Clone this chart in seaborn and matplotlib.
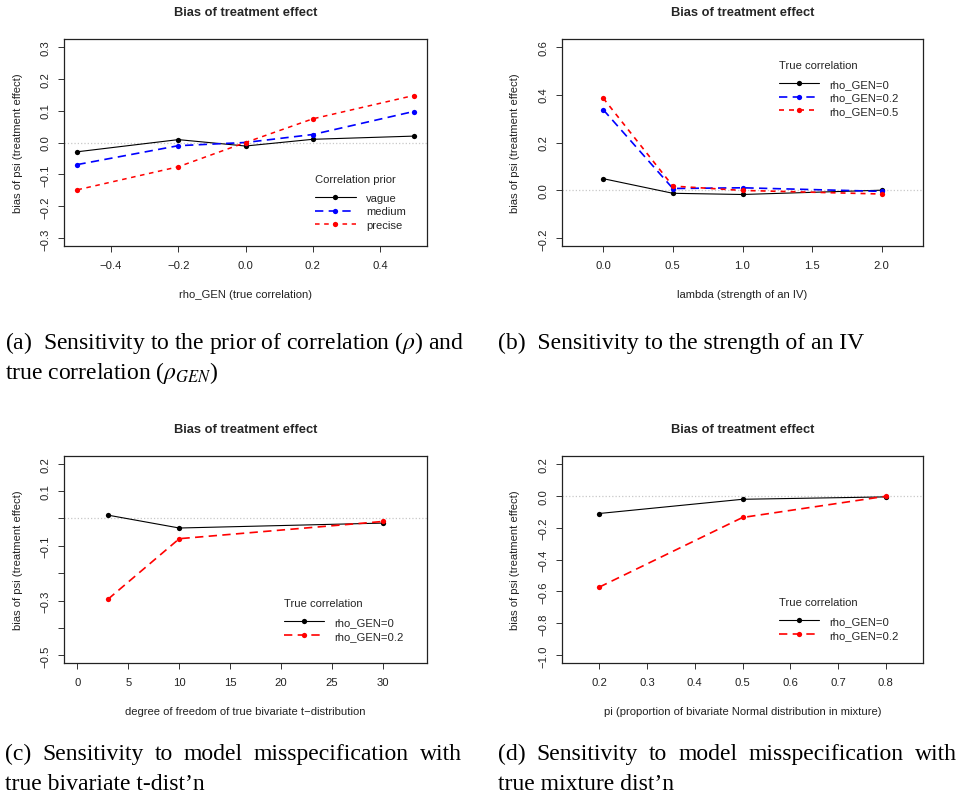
import numpy as np
import pandas as pd
import matplotlib
matplotlib.use('Agg')
import matplotlib.pyplot as plt
import seaborn as sns

# values
rho_gen = [-0.5, -0.2, 0.0, 0.2, 0.5]
a_vague = [-0.029, 0.009, -0.011, 0.010, 0.020]
a_medium = [-0.069, -0.010, 0.000, 0.025, 0.097]
a_precise = [-0.148, -0.076, 0.000, 0.074, 0.147]

lam = [0.0, 0.5, 1.0, 2.0]
b_rho0 = [0.049, -0.012, -0.017, 0.001]
b_rho02 = [0.337, 0.008, 0.011, -0.004]
b_rho05 = [0.385, 0.018, 0.000, -0.015]

df_t = [3, 10, 30]
c_rho0 = [0.012, -0.035, -0.017]
c_rho02 = [-0.295, -0.074, -0.011]

pi_mix = [0.2, 0.5, 0.8]
d_rho0 = [-0.112, -0.023, -0.008]
d_rho02 = [-0.573, -0.137, -0.004]

a_xticks = [-0.4, -0.2, 0.0, 0.2, 0.4]
a_yticks = [-0.3, -0.2, -0.1, 0.0, 0.1, 0.2, 0.3]
b_xticks = [0.0, 0.5, 1.0, 1.5, 2.0]
b_yticks = [-0.2, 0.0, 0.2, 0.4, 0.6]
c_xticks = [0, 5, 10, 15, 20, 25, 30]
c_yticks = [-0.5, -0.4, -0.3, -0.2, -0.1, 0.0, 0.1, 0.2]
c_ylabels = ['\u22120.5', '', '\u22120.3', '', '\u22120.1', '', '0.1', '0.2']
d_xticks = [0.2, 0.3, 0.4, 0.5, 0.6, 0.7, 0.8]
d_yticks = [-1.0, -0.8, -0.6, -0.4, -0.2, 0.0, 0.2]

title = 'Bias of treatment effect'
ylab = 'bias of psi (treatment effect)'

sns.set_style('ticks')
plt.rcParams['font.family'] = ['Liberation Sans', 'DejaVu Sans']
plt.rcParams['mathtext.fontset'] = 'stix'

fig = plt.figure(figsize=(9.61, 8.04), dpi=100)
W, H = 961, 804
FS = 8.1


def make_ax(l, t, r, b):
    return fig.add_axes([l / W, 1 - b / H, (r - l) / W, (b - t) / H])


def style_ax(ax, xlabel, xlim, ylim, xticks, yticks, ylabels=None):
    ax.axhline(0, color='#c8c8c8', ls=':', lw=0.9, zorder=0)
    ax.set_xlim(xlim)
    ax.set_ylim(ylim)
    ax.set_xticks(xticks)
    ax.set_yticks(yticks)
    if ylabels is not None:
        ax.set_yticklabels(ylabels)
    ax.tick_params(direction='out', length=4.3, width=0.7, labelsize=FS,
                   color='#333333', labelcolor='#222222')
    ax.tick_params(axis='x', pad=6)
    ax.tick_params(axis='y', pad=5.5, labelrotation=90)
    for lab in ax.get_yticklabels():
        lab.set_va('center')
    for sp in ax.spines.values():
        sp.set_linewidth(0.9)
        sp.set_color('#222222')
    ax.set_title(title, fontsize=9.3, fontweight='bold', pad=17)
    ax.set_xlabel(xlabel, fontsize=FS, color='#222222')
    ax.set_ylabel(ylab, fontsize=FS, color='#222222')


def series(ax, x, y, color, ls, lw, label):
    sns.lineplot(x=x, y=y, ax=ax, color=color, linestyle=ls, lw=lw,
                 marker='o', markersize=3.8, markeredgewidth=0,
                 label=label, estimator=None)


def legend(ax, ttl, x, y):
    leg = ax.legend(title=ttl, loc='upper left', bbox_to_anchor=(x, y), frameon=False,
                    fontsize=FS, title_fontsize=FS, borderpad=0.5, handlelength=3.6,
                    handletextpad=0.9, labelspacing=0.33, alignment='left', numpoints=1)
    # a bit more room between the legend title and the entries
    leg._legend_box.sep = 0.33 * FS + 3.6


long_dash = (0, (5, 3.2))
short_dash = (0, (3, 3))

# (a)
ax = make_ax(64, 40, 427, 247)
series(ax, rho_gen, a_vague, 'black', '-', 0.8, 'vague')
series(ax, rho_gen, a_medium, 'blue', long_dash, 1.2, 'medium')
series(ax, rho_gen, a_precise, 'red', short_dash, 1.1, 'precise')
style_ax(ax, 'rho_GEN (true correlation)', (-0.54, 0.54), (-0.324, 0.324), a_xticks, a_yticks)
legend(ax, 'Correlation prior', 0.661, 0.402)

# (b)
ax = make_ax(562, 40, 923, 247)
series(ax, lam, b_rho0, 'black', '-', 0.8, 'rho_GEN=0')
series(ax, lam, b_rho02, 'blue', long_dash, 1.2, 'rho_GEN=0.2')
series(ax, lam, b_rho05, 'red', short_dash, 1.2, 'rho_GEN=0.5')
style_ax(ax, 'lambda (strength of an IV)', (-0.296, 2.296), (-0.232, 0.632), b_xticks, b_yticks)
legend(ax, 'True correlation', 0.569, 0.952)

# (c)
ax = make_ax(64, 457, 427, 664)
series(ax, df_t, c_rho0, 'black', '-', 0.8, 'rho_GEN=0')
series(ax, df_t, c_rho02, 'red', long_dash, 1.2, 'rho_GEN=0.2')
style_ax(ax, 'degree of freedom of true bivariate t\u2212distribution', (-1.32, 34.32), (-0.528, 0.228),
         c_xticks, c_yticks, c_ylabels)
legend(ax, 'True correlation', 0.574, 0.367)

# (d)
ax = make_ax(562, 457, 923, 664)
series(ax, pi_mix, d_rho0, 'black', '-', 0.8, 'rho_GEN=0')
series(ax, pi_mix, d_rho02, 'red', long_dash, 1.2, 'rho_GEN=0.2')
style_ax(ax, 'pi (proportion of bivariate Normal distribution in mixture)', (0.122, 0.878), (-1.048, 0.248),
         d_xticks, d_yticks)
legend(ax, 'True correlation', 0.569, 0.372)

for a in fig.axes:
    a.xaxis.set_label_coords(0.5, -0.232)
    a.xaxis.label.set_va('center')
for a, px in zip(fig.axes, [46, 47, 46, 47]):
    w = a.get_position().width * W
    a.yaxis.set_label_coords(-px / w, 0.5)
    a.yaxis.label.set_va('center')

# captions
cap = dict(fontsize=17, family='Liberation Serif', va='baseline', ha='left', color='black')
renderer = fig.canvas.get_renderer()


def justified(x0, x1, y, line):
    # spread the words of one caption line across x0..x1 pixels
    words = line.split(' ')
    texts = [fig.text(0, 1 - y / H, w_, **cap) for w_ in words]
    widths = [t.get_window_extent(renderer).width for t in texts]
    gap = (x1 - x0 - sum(widths)) / (len(words) - 1)
    x = x0
    for t, wd in zip(texts, widths):
        t.set_x(x / W)
        x += wd + gap


fig.text(5 / W, 1 - 349 / H, '(a)  Sensitivity to the prior of correlation ($\\rho$) and', **cap)
fig.text(5 / W, 1 - 379 / H, 'true correlation ($\\rho_{GEN}$)', **cap)
fig.text(498 / W, 1 - 349 / H, '(b)  Sensitivity to the strength of an IV', **cap)
justified(5, 462, 760, '(c) Sensitivity to model misspecification with')
fig.text(5 / W, 1 - 790 / H, 'true bivariate t-dist\u2019n', **cap)
justified(498, 957, 760, '(d) Sensitivity to model misspecification with')
fig.text(498 / W, 1 - 790 / H, 'true mixture dist\u2019n', **cap)

fig.savefig('out.png', dpi=100)
